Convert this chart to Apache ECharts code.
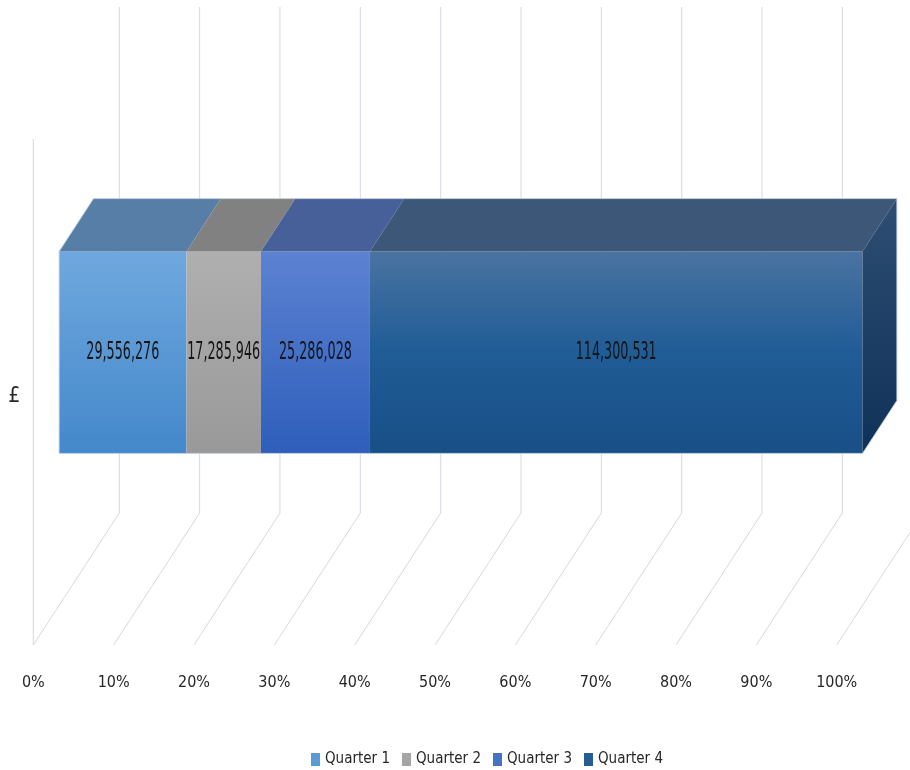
<!DOCTYPE html>
<html>
<head>
<meta charset="utf-8">
<script src="https://cdn.jsdelivr.net/npm/echarts@6/dist/echarts.min.js"></script>
<style>
  html, body { margin: 0; padding: 0; background: #ffffff; }
  #chart { width: 910px; height: 770px; }
</style>
</head>
<body>
<div id="chart"></div>
<script>
// ---- data ----
const categories = ['£'];
const seriesNames = ['Quarter 1', 'Quarter 2', 'Quarter 3', 'Quarter 4'];
const quarter1 = [29556276];
const quarter2 = [17285946];
const quarter3 = [25286028];
const quarter4 = [114300531];
const tickValues = [0, 10, 20, 30, 40, 50, 60, 70, 80, 90, 100];
const tickLabels = ['0%', '10%', '20%', '30%', '40%', '50%', '60%', '70%', '80%', '90%', '100%'];

// ---- styling ----
const FONT = "'DejaVu Sans Condensed', 'Liberation Sans Narrow', 'Liberation Sans', sans-serif";
const DX = 86, DY = -132;        // full floor depth projection
const WALL_H = 506;              // wall height
const Z0 = 0.3, Z1 = 0.7;        // bar depth range
const H0 = 152, H1 = 354;        // bar bottom/top heights above floor
const legendColors = ['#5B9BD5', '#A5A5A5', '#4472C4', '#255E91'];
const frontGrad = [
  ['#6FA8DE', '#4488CB'],
  ['#AFAFAF', '#999999'],
  ['#5C82D2', '#2E5EBB'],
  ['#4A73A1', '#205C96', '#184F86']
];
const topColors = ['#567EA6', '#818181', '#48609A', '#3C5778'];
const sideGrad = ['#2E4E72', '#0F3159'];
const edgeColor = 'rgba(200,210,226,0.9)';
const gridColor = '#D4D8E2';

const quarterValues = [quarter1, quarter2, quarter3, quarter4];
const totals = categories.map((c, i) => quarterValues.reduce((a, q) => a + q[i], 0));

function grad(stops) {
  return new echarts.graphic.LinearGradient(0, 0, 0, 1,
    stops.map((c, i) => ({ offset: i / (stops.length - 1), color: c })));
}

function makeSegmentSeries(qi) {
  const data = categories.map((c, ci) => {
    let start = 0;
    for (let k = 0; k < qi; k++) start += quarterValues[k][ci];
    const end = start + quarterValues[qi][ci];
    return [start / totals[ci] * 100, end / totals[ci] * 100, ci, quarterValues[qi][ci]];
  });
  const isFirst = qi === 0, isLast = qi === quarterValues.length - 1;
  return {
    name: seriesNames[qi],
    type: 'custom',
    itemStyle: { color: legendColors[qi] },
    encode: { x: [0, 1], y: 2 },
    z: 3,
    data: data,
    renderItem: function (params, api) {
      const s = api.value(0), e = api.value(1), v = api.value(3);
      const cs = params.coordSys;
      const floorY = cs.y + cs.height;
      const xs = api.coord([s, 0])[0];
      const xe = api.coord([e, 0])[0];
      const P = (x, z, h) => [x + z * DX, floorY + z * DY - h];
      const children = [];
      children.push({
        type: 'polygon',
        shape: { points: [P(xs, Z0, H1), P(xe, Z0, H1), P(xe, Z0, H0), P(xs, Z0, H0)] },
        style: { fill: grad(frontGrad[qi]) }
      });
      children.push({
        type: 'polygon',
        shape: { points: [P(xs, Z0, H1), P(xe, Z0, H1), P(xe, Z1, H1), P(xs, Z1, H1)] },
        style: { fill: topColors[qi] }
      });
      if (isLast) {
        children.push({
          type: 'polygon',
          shape: { points: [P(xe, Z0, H1), P(xe, Z1, H1), P(xe, Z1, H0), P(xe, Z0, H0)] },
          style: { fill: grad(sideGrad) }
        });
      }
      const edge = (pts) => children.push({
        type: 'polyline', shape: { points: pts },
        style: { stroke: edgeColor, lineWidth: 1, fill: null }
      });
      edge([P(xs, Z0, H0), P(xe, Z0, H0)]);
      edge([P(xs, Z1, H1), P(xe, Z1, H1)]);
      if (isFirst) edge([P(xs, Z0, H0), P(xs, Z0, H1), P(xs, Z1, H1)]);
      if (isLast) edge([P(xe, Z1, H1), P(xe, Z1, H0), P(xe, Z0, H0)]);
      const c = P((xs + xe) / 2, Z0, (H0 + H1) / 2);
      children.push({
        type: 'text',
        x: c[0], y: c[1],
        scaleX: 0.59,
        style: {
          text: v.toLocaleString('en-US'),
          fill: '#151515',
          font: '24px ' + FONT,
          align: 'center',
          verticalAlign: 'middle'
        }
      });
      return { type: 'group', children: children };
    }
  };
}

const gridSeries = {
  type: 'custom',
  silent: true,
  z: 1,
  encode: { x: 0, y: 1 },
  data: tickValues.map(t => [t, 0]),
  renderItem: function (params, api) {
    const t = api.value(0);
    const cs = params.coordSys;
    const floorY = cs.y + cs.height;
    const x = api.coord([t, 0])[0];
    const children = [{
      type: 'polyline',
      shape: { points: [[x, floorY], [x + DX, floorY + DY], [x + DX, floorY + DY - WALL_H]] },
      style: { stroke: gridColor, lineWidth: 1, fill: null }
    }];
    if (params.dataIndex === 0) {
      children.push({
        type: 'line',
        shape: { x1: x, y1: floorY, x2: x, y2: floorY - WALL_H },
        style: { stroke: gridColor, lineWidth: 1 }
      });
    }
    return { type: 'group', children: children };
  }
};

const chart = echarts.init(document.getElementById('chart'), null, { renderer: 'canvas' });
chart.setOption({
  backgroundColor: '#ffffff',
  animation: false,
  grid: { left: 33.3, right: 73.3, top: 149, bottom: 125, containLabel: false },
  xAxis: {
    type: 'value', min: 0, max: 100, interval: 10,
    axisLine: { show: false }, axisTick: { show: false }, splitLine: { show: false },
    axisLabel: {
      margin: 30,
      color: '#262626',
      fontSize: 16,
      fontFamily: FONT,
      formatter: function (val) {
        const i = tickValues.indexOf(val);
        return i >= 0 ? tickLabels[i] : '';
      }
    }
  },
  yAxis: {
    type: 'category', data: categories,
    axisLine: { show: false }, axisTick: { show: false }, splitLine: { show: false },
    axisLabel: { margin: 13, color: '#262626', fontSize: 21, fontFamily: FONT }
  },
  legend: {
    data: seriesNames,
    left: 306, top: 747,
    icon: 'rect',
    itemWidth: 9, itemHeight: 13, itemGap: 12,
    textStyle: { color: '#262626', fontSize: 15, fontFamily: FONT }
  },
  series: [gridSeries].concat(seriesNames.map((n, i) => makeSegmentSeries(i)))
});
</script>
</body>
</html>
